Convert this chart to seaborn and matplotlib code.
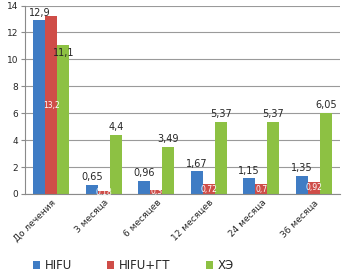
import pandas as pd
import numpy as np
import matplotlib
matplotlib.use('Agg')
import matplotlib.pyplot as plt
import seaborn as sns

# %%
periods = ['До лечения', '3 месяца', '6 месяцев', '12 месяцев', '24 месяца', '36 месяца']
series = ['HIFU', 'HIFU+ГТ', 'ХЭ']
hifu = [12.9, 0.65, 0.96, 1.67, 1.15, 1.35]
hifu_gt = [13.2, 0.18, 0.3, 0.72, 0.7, 0.92]
che = [11.1, 4.4, 3.49, 5.37, 5.37, 6.05]
hifu_lbl = ['12,9', '0,65', '0,96', '1,67', '1,15', '1,35']
hifu_gt_lbl = ['13,2', '0,18', '0,3', '0,72', '0,7', '0,92']
che_lbl = ['11,1', '4,4', '3,49', '5,37', '5,37', '6,05']

df = pd.DataFrame({
    'period': periods * 3,
    'series': [s for s in series for _ in periods],
    'value': hifu + hifu_gt + che,
})
colors = {'HIFU': '#3f7cc4', 'HIFU+ГТ': '#cf4d48', 'ХЭ': '#8dc143'}

# %%
sns.set_style('white')
plt.rcParams['font.family'] = ['DejaVu Sans']
fig = plt.figure(figsize=(3.49, 2.79), dpi=100)
ax = fig.add_axes([0.072, 0.305, 0.902, 0.675])
sns.barplot(data=df, x='period', y='value', hue='series', palette=colors,
            width=0.69, ax=ax, legend=True, saturation=1, linewidth=0)

ax.set_ylim(0, 14)
ax.set_yticks(range(0, 15, 2))
ax.yaxis.grid(True, color='#9a9a9a', linewidth=0.8)
ax.set_axisbelow(True)
ax.set_xlabel('')
ax.set_ylabel('')
for s in ['top', 'right']:
    ax.spines[s].set_visible(False)
for s in ['left', 'bottom']:
    ax.spines[s].set_color('#8a8a8a')
ax.tick_params(axis='y', labelsize=6.5, length=3, color='#8a8a8a', left=True, pad=2)
ax.set_xticks(range(len(periods)))
ax.set_xticklabels(periods, rotation=45, ha='right', rotation_mode='anchor', fontsize=6.5)
ax.tick_params(axis='x', length=0, pad=3)
ax.set_xticks(np.arange(-0.5, len(periods), 1), minor=True)
ax.tick_params(axis='x', which='minor', length=3, color='#8a8a8a')
ax.set_xlim(-0.5, len(periods) - 0.5)

cont = ax.containers
ax.bar_label(cont[0], labels=hifu_lbl, fontsize=7, padding=2)
txt = ax.bar_label(cont[2], labels=che_lbl, fontsize=7, padding=2)
txt[0].xyann = (0, -10)
ax.bar_label(cont[1], labels=hifu_gt_lbl, fontsize=5.5, label_type='center', color='white')

h, l = ax.get_legend_handles_labels()
ax.legend(h, l, loc='upper left', bbox_to_anchor=(-0.01, -0.29), ncol=3, frameon=False,
          fontsize=8.5, handlelength=0.6, handleheight=0.6, columnspacing=3.0,
          handletextpad=0.4)

fig.savefig('out.png', dpi=100)
